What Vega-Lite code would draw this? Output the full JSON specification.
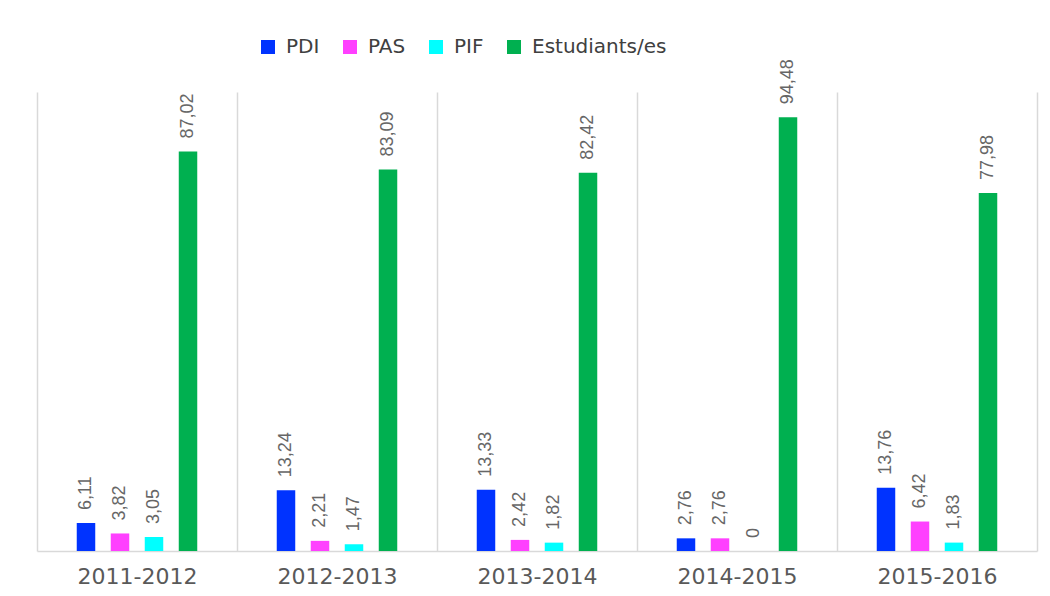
{
  "$schema": "https://vega.github.io/schema/vega-lite/v6.json",
  "width": 1000,
  "height": 459,
  "autosize": {"type": "none"},
  "padding": {"left": 37, "top": 92, "right": 13, "bottom": 45},
  "background": "white",
  "data": {
    "values": [
      {"year": "2011-2012", "series": "PDI", "value": 6.11, "label": "6,11"},
      {"year": "2011-2012", "series": "PAS", "value": 3.82, "label": "3,82"},
      {"year": "2011-2012", "series": "PIF", "value": 3.05, "label": "3,05"},
      {"year": "2011-2012", "series": "Estudiants/es", "value": 87.02, "label": "87,02"},
      {"year": "2012-2013", "series": "PDI", "value": 13.24, "label": "13,24"},
      {"year": "2012-2013", "series": "PAS", "value": 2.21, "label": "2,21"},
      {"year": "2012-2013", "series": "PIF", "value": 1.47, "label": "1,47"},
      {"year": "2012-2013", "series": "Estudiants/es", "value": 83.09, "label": "83,09"},
      {"year": "2013-2014", "series": "PDI", "value": 13.33, "label": "13,33"},
      {"year": "2013-2014", "series": "PAS", "value": 2.42, "label": "2,42"},
      {"year": "2013-2014", "series": "PIF", "value": 1.82, "label": "1,82"},
      {"year": "2013-2014", "series": "Estudiants/es", "value": 82.42, "label": "82,42"},
      {"year": "2014-2015", "series": "PDI", "value": 2.76, "label": "2,76"},
      {"year": "2014-2015", "series": "PAS", "value": 2.76, "label": "2,76"},
      {"year": "2014-2015", "series": "PIF", "value": 0, "label": "0"},
      {"year": "2014-2015", "series": "Estudiants/es", "value": 94.48, "label": "94,48"},
      {"year": "2015-2016", "series": "PDI", "value": 13.76, "label": "13,76"},
      {"year": "2015-2016", "series": "PAS", "value": 6.42, "label": "6,42"},
      {"year": "2015-2016", "series": "PIF", "value": 1.83, "label": "1,83"},
      {"year": "2015-2016", "series": "Estudiants/es", "value": 77.98, "label": "77,98"}
    ]
  },
  "encoding": {
    "x": {
      "field": "year",
      "type": "nominal",
      "scale": {"paddingInner": 0, "paddingOuter": 0},
      "axis": {
        "title": null,
        "labelAngle": 0,
        "labelFont": "DejaVu Sans",
        "labelFontSize": 22,
        "labelColor": "#595959",
        "labelPadding": 15,
        "ticks": false,
        "grid": true,
        "tickBand": "extent",
        "gridColor": "#d9d9d9",
        "gridWidth": 1.5,
        "domainColor": "#d9d9d9",
        "domainWidth": 1.5
      }
    },
    "xOffset": {
      "field": "series",
      "type": "nominal",
      "scale": {
        "domain": ["_left", "PDI", "PAS", "PIF", "Estudiants/es", "_right"],
        "paddingInner": 0.456,
        "paddingOuter": 0.169
      }
    },
    "y": {
      "field": "value",
      "type": "quantitative",
      "scale": {"domain": [0, 100], "nice": false},
      "axis": null
    }
  },
  "layer": [
    {
      "mark": {"type": "bar"},
      "encoding": {
        "color": {
          "field": "series",
          "type": "nominal",
          "scale": {
            "domain": ["PDI", "PAS", "PIF", "Estudiants/es"],
            "range": ["#0033FF", "#FF40FF", "#00FFFF", "#00B050"]
          },
          "legend": {
            "title": null,
            "orient": "none",
            "direction": "horizontal",
            "legendX": 221,
            "legendY": -55,
            "symbolType": "square",
            "symbolSize": 196,
            "symbolStrokeWidth": 0,
            "labelFont": "DejaVu Sans",
            "labelFontSize": 20,
            "labelColor": "#404040",
            "columnPadding": 20,
            "labelOffset": 8
          }
        }
      }
    },
    {
      "mark": {
        "type": "text",
        "angle": -90,
        "align": "left",
        "baseline": "middle",
        "dx": 13,
        "font": "Liberation Sans",
        "fontSize": 18,
        "color": "#666666"
      },
      "encoding": {
        "text": {"field": "label", "type": "nominal"}
      }
    }
  ],
  "config": {
    "view": {"stroke": null}
  }
}
